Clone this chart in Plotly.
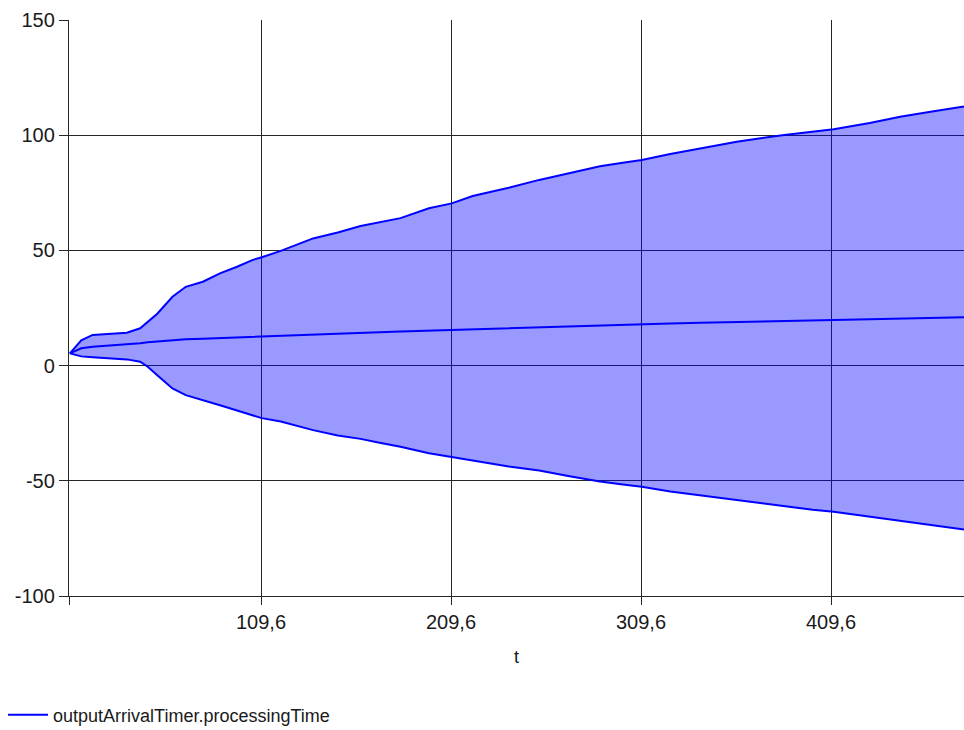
import plotly.graph_objects as go

# Simulation time samples
t = [9.0, 15, 21, 30, 39, 46, 50, 55, 63, 70, 79, 88, 97, 105, 110, 120, 137, 150,
     162, 172, 183, 198, 210, 221, 240, 256, 272, 288, 300, 310, 325, 341, 360, 385,
     400, 411, 430, 446, 462, 479.6]

# Mean processing time
mean_val = [5.3, 7.5, 8.2, 8.7, 9.0, 9.7, 10.1, 10.5, 11.1, 11.4, 11.7, 12.0, 12.2,
            12.3, 12.5, 12.8, 13.4, 13.8, 14.2, 14.5, 14.8, 15.2, 15.5, 15.8, 16.3,
            16.7, 17.1, 17.5, 17.7, 17.9, 18.3, 18.6, 19.0, 19.4, 19.6, 19.8, 20.1,
            20.4, 20.7, 21.0]

# Upper band
upper_val = [5.3, 11.0, 13.3, 13.8, 14.3, 16.2, 19.0, 22.5, 29.9, 34.2, 36.4, 40.0,
             42.9, 45.8, 47.0, 49.8, 55.2, 57.8, 60.6, 62.2, 64.0, 68.3, 70.4, 73.6,
             77.2, 80.6, 83.5, 86.5, 88.0, 89.2, 91.8, 94.3, 97.2, 100.1, 101.6, 102.6,
             105.3, 108.0, 110.2, 112.5]

# Lower band
lower_val = [5.3, 4.0, 3.6, 3.2, 2.7, 1.7, -0.5, -4.2, -9.9, -12.8, -14.9, -17.2,
             -19.5, -21.6, -22.8, -24.3, -28.0, -30.3, -31.8, -33.5, -35.2, -38.0,
             -39.5, -41.2, -43.8, -45.5, -48.0, -50.3, -51.6, -52.6, -54.6, -56.3,
             -58.5, -61.0, -62.6, -63.4, -65.5, -67.5, -69.3, -71.1]

x_ticks = [8.55, 109.6, 209.6, 309.6, 409.6]
x_tick_text = ["", "109,6", "209,6", "309,6", "409,6"]
y_ticks = [-100, -50, 0, 50, 100, 150]
y_tick_text = ["-100", "-50", "0", "50", "100", "150"]

blue = "#0000ff"
grid = "#262626"
font_family = "Liberation Sans, Arial, sans-serif"

fig = go.Figure()
fig.add_trace(go.Scatter(
    x=t, y=lower_val, mode="lines", line=dict(color=blue, width=2),
    showlegend=False, hoverinfo="skip"))
fig.add_trace(go.Scatter(
    x=t, y=upper_val, mode="lines", line=dict(color=blue, width=2),
    fill="tonexty", fillcolor="rgba(0,0,255,0.4)",
    showlegend=False, hoverinfo="skip"))
fig.add_trace(go.Scatter(
    x=t, y=mean_val, mode="lines", line=dict(color=blue, width=2),
    name="outputArrivalTimer.processingTime"))

fig.update_layout(
    width=964, height=730,
    margin=dict(l=69, r=0, t=20, b=134, autoexpand=False),
    paper_bgcolor="white", plot_bgcolor="white",
    font=dict(family=font_family, color="#1a1a1a", size=20),
    showlegend=True,
    legend=dict(
        x=-0.0737, y=-0.2066, xanchor="left", yanchor="middle",
        font=dict(size=18, color="#1a1a1a"),
        bgcolor="rgba(0,0,0,0)", itemwidth=40),
    xaxis=dict(
        range=[8.55, 479.6], tickvals=x_ticks, ticktext=x_tick_text,
        showgrid=True, gridcolor=grid, gridwidth=1.4,
        ticks="outside", ticklen=8, tickcolor=grid, tickwidth=1.4,
        showline=True, linecolor=grid, linewidth=1.4,
        zeroline=False, tickfont=dict(size=20),
        title=dict(text="t", font=dict(size=18), standoff=18)),
    yaxis=dict(
        range=[-100, 150], tickvals=y_ticks, ticktext=y_tick_text,
        showgrid=True, gridcolor=grid, gridwidth=1.4,
        ticks="outside", ticklen=9, tickcolor=grid, tickwidth=1.4,
        showline=True, linecolor=grid, linewidth=1.4,
        zeroline=False, tickfont=dict(size=20)),
)

fig.write_html("out.html")
